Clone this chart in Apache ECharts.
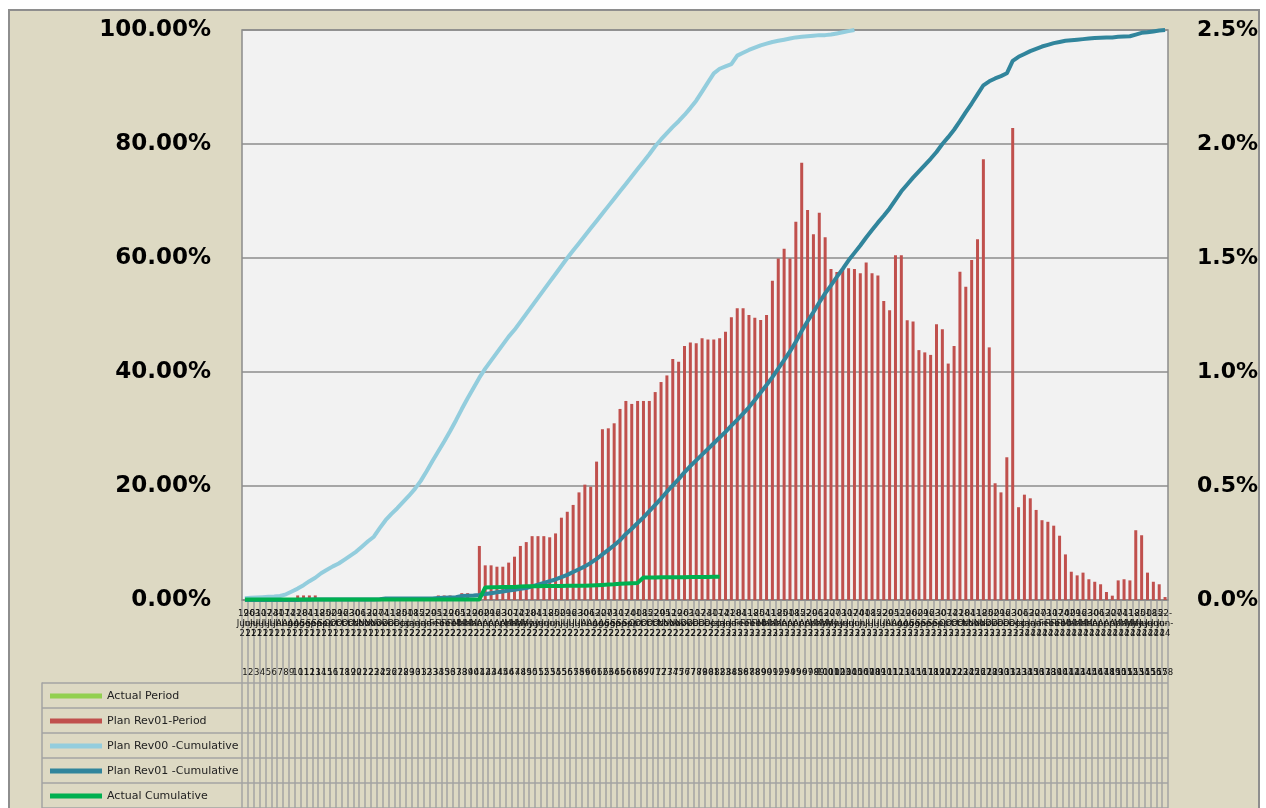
<!DOCTYPE html>
<html><head><meta charset="utf-8">
<script src="https://cdn.jsdelivr.net/npm/echarts@6/dist/echarts.min.js"></script>
<style>
html,body{margin:0;padding:0;background:#fff;width:1266px;height:808px;overflow:hidden}
#frame{position:absolute;left:8px;top:9px;width:1248px;height:820px;background:#ddd9c3;border:2px solid #8e8e8e}
#chart{position:absolute;left:0;top:0;width:1266px;height:808px}
</style></head><body><div id="frame"></div><div id="chart"></div>
<script>
// ---- categories: weekly dates starting 19-Jun-21, 158 weeks ----
const monthNames = ['Jan','Feb','Mar','Apr','May','Jun','Jul','Aug','Sep','Oct','Nov','Dec'];
const weekCount = 158;
const categories = [];
for (let k = 0; k < weekCount; k++) {
  const d = new Date(Date.UTC(2021, 5, 19 + 7 * k));
  const dd = String(d.getUTCDate()).padStart(2, '0');
  categories.push(dd + '-' + monthNames[d.getUTCMonth()] + '-' + String(d.getUTCFullYear()).slice(2));
}
const weekNumbers = categories.map((_, k) => String(k + 1));

const seriesNames = ['Actual Period', 'Plan Rev01-Period', 'Plan Rev00 -Cumulative', 'Plan Rev01 -Cumulative', 'Actual Cumulative'];

const leftTicks = { min: 0, max: 100, interval: 20 };
const rightTicks = { min: 0, max: 2.5, interval: 0.5 };

const nulls = n => Array(n).fill(null);

// Actual Period (%, left axis) - only one visible bar
const actualPeriod = nulls(68).concat([0.5]).concat(nulls(89));

// Plan Rev01-Period (%, right axis)
const planRev01Period = [
  0,0,0,0,0,0,0,0,0,
  0.02,0.02,0.02,0.02,
  0,0,0,0,0,0,0,0,0,0,0,0,0,0,0,0,0,0,0,0,
  0.02,0.02,0.02,
  0,
  0.03,0.03,
  0,
  0.237,0.152,0.152,0.146,0.146,0.164,0.19,0.237,0.254,0.28,
  0.28,0.28,0.275,0.292,0.361,0.387,0.417,0.472,0.506,0.497,
  0.607,0.749,0.753,0.775,0.838,0.873,0.86,0.873,0.873,0.873,
  0.912,0.956,0.985,1.057,1.045,1.114,1.129,1.126,1.148,1.143,
  1.143,1.148,1.177,1.24,1.28,1.28,1.25,1.238,1.228,1.25,
  1.40,1.498,1.541,1.498,1.659,1.918,1.711,1.604,1.699,1.591,
  1.452,1.439,1.452,1.455,1.452,1.433,1.48,1.433,1.423,1.311,
  1.271,1.512,1.512,1.227,1.221,1.096,1.086,1.075,1.209,1.187,
  1.037,1.114,1.44,1.374,1.491,1.582,1.933,1.108,0.512,0.472,
  0.626,2.07,0.407,0.462,0.446,0.395,0.35,0.343,0.326,0.282,
  0.2,0.124,0.108,0.12,0.091,0.08,0.069,0.035,0.019,0.086,
  0.091,0.086,0.306,0.284,0.12,0.08,0.069,0.013
];

// Plan Rev00 -Cumulative (%, left axis)
const planRev00Cum = [
  0.3,0.4,0.45,0.5,0.55,0.6,0.7,1.0,1.5,2.0,
  2.6,3.3,3.9,4.7,5.3,5.9,6.4,7.1,7.8,8.5,
  9.4,10.3,11.1,12.6,14.0,15.1,16.1,17.2,18.3,19.5,
  20.9,22.6,24.4,26.1,27.8,29.6,31.5,33.5,35.4,37.2,
  39.0,40.6,42.0,43.4,44.8,46.2,47.4,48.8,50.2,51.6,
  53.0,54.4,55.8,57.2,58.6,60.0,61.3,62.6,63.9,65.2,
  66.5,67.8,69.1,70.4,71.7,73.0,74.3,75.6,76.9,78.2,
  79.6,80.8,81.9,83.0,84.0,85.1,86.3,87.6,89.2,90.8,
  92.4,93.2,93.6,94.0,95.5,96.0,96.5,96.9,97.3,97.6,
  97.9,98.1,98.3,98.5,98.7,98.8,98.9,99.0,99.1,99.1,
  99.2,99.4,99.6,99.8,100.0
].concat(nulls(53));

// Plan Rev01 -Cumulative (%, left axis)
const planRev01Cum = [
  0,0,0,0,0,0,0,0,0,0.02,
  0.04,0.06,0.08,0.1,0.1,0.1,0.1,0.1,0.1,0.1,
  0.1,0.1,0.1,0.15,0.25,0.25,0.25,0.25,0.25,0.25,
  0.25,0.25,0.25,0.35,0.4,0.45,0.5,0.7,0.75,0.8,
  0.9,1.05,1.2,1.35,1.5,1.65,1.8,1.95,2.1,2.4,
  2.7,3.0,3.3,3.6,4.0,4.4,4.9,5.4,5.9,6.5,
  7.2,8.0,8.8,9.6,10.5,11.6,12.5,13.5,14.5,15.6,
  16.7,17.8,19.0,20.1,21.2,22.4,23.5,24.5,25.5,26.5,
  27.5,28.5,29.5,30.6,31.6,32.7,33.8,35.1,36.4,37.7,
  39.1,40.6,42.1,43.6,45.3,47.2,48.9,50.5,52.2,53.8,
  55.2,56.7,58.1,59.6,60.9,62.2,63.6,64.9,66.2,67.4,
  68.7,70.2,71.7,72.9,74.1,75.2,76.3,77.4,78.6,80.0,
  81.2,82.5,84.0,85.6,87.1,88.7,90.3,91.0,91.5,91.9,
  92.4,94.6,95.3,95.8,96.3,96.7,97.1,97.4,97.7,97.9,
  98.1,98.2,98.3,98.4,98.5,98.6,98.65,98.7,98.7,98.8,
  98.85,98.9,99.2,99.5,99.6,99.75,99.9,100
];

// Actual Cumulative (%, left axis)
const actualCum = [
  0.1,0.1,0.1,0.1,0.1,0.1,0.1,0.1,0.1,0.1,
  0.1,0.1,0.1,0.1,0.1,0.1,0.1,0.1,0.1,0.1,
  0.1,0.1,0.1,0.1,0.1,0.1,0.1,0.1,0.1,0.1,
  0.1,0.1,0.1,0.1,0.1,0.1,0.1,0.1,0.1,0.1,
  0.1,
  2.2,2.25,2.25,2.3,2.3,2.3,2.35,2.4,2.4,
  2.4,2.45,2.45,2.45,2.45,2.5,2.5,2.5,2.5,2.55,
  2.6,2.65,2.7,2.75,2.85,2.9,2.95,3.0,3.95,3.95,
  3.95,4.0,4.0,4.0,4.0,4.0,4.05,4.05,4.05,4.05,4.1,4.1
].concat(nulls(76));

const colors = {
  actualPeriod: '#92d050',
  planRev01Period: '#c0504d',
  planRev00Cum: '#93cddd',
  planRev01Cum: '#31859c',
  actualCum: '#00b050'
};

const chart = echarts.init(document.getElementById('chart'), null, { renderer: 'canvas' });
const gridLine = '#8c8c8c';
const tableLine = '#a3a3a3';
const axisFont = 'DejaVu Sans';

const option = {
  backgroundColor: 'transparent',
  animation: false,
  textStyle: { fontFamily: axisFont },
  legend: {
    orient: 'vertical', left: 50, top: 689, padding: 0,
    itemGap: 11, itemWidth: 52, itemHeight: 5, icon: 'rect',
    selectedMode: false,
    textStyle: { fontSize: 11, lineHeight: 14, color: '#222', fontFamily: axisFont },
    data: seriesNames
  },
  grid: [
    { left: 242, right: 98, top: 30, height: 570, show: true, backgroundColor: '#f2f2f2', borderColor: gridLine, borderWidth: 1.5 },
    { left: 242, right: 98, top: 600, height: 208 },
    { left: 42, right: 98, top: 683, height: 125 }
  ],
  xAxis: [
    {
      gridIndex: 0, type: 'category', data: categories,
      axisLine: { lineStyle: { color: gridLine, width: 1.5 } },
      axisTick: { show: false },
      axisLabel: {
        interval: 0, fontSize: 8.5, lineHeight: 10, color: '#111', margin: 9,
        formatter: v => { const p = v.split('-'); return p[0] + '-\n' + p[1] + '-\n' + p[2]; }
      }
    },
    {
      gridIndex: 0, type: 'category', data: weekNumbers, position: 'bottom', offset: 62,
      axisLine: { show: false }, axisTick: { show: false },
      axisLabel: { interval: 0, fontSize: 8.5, color: '#111', margin: 6 }
    },
    {
      gridIndex: 1, type: 'category', data: categories, boundaryGap: true,
      axisLine: { show: false }, axisTick: { show: false }, axisLabel: { show: false },
      splitLine: { show: true, interval: 0, lineStyle: { color: tableLine, width: 1.5 } }
    },
    { gridIndex: 2, type: 'value', min: 0, max: 1, show: false }
  ],
  yAxis: [
    {
      gridIndex: 0, type: 'value', position: 'left', ...leftTicks,
      axisLine: { show: false }, axisTick: { show: false },
      axisLabel: { formatter: v => v.toFixed(2) + '%', fontSize: 23, fontWeight: 'bold', color: '#000', margin: 31, fontFamily: axisFont },
      splitLine: { show: true, lineStyle: { color: gridLine, width: 1.5 } }
    },
    {
      gridIndex: 0, type: 'value', position: 'right', ...rightTicks,
      axisLine: { show: false }, axisTick: { show: false },
      axisLabel: { formatter: v => v.toFixed(1) + '%', fontSize: 22, fontWeight: 'bold', color: '#000', margin: 29, fontFamily: axisFont },
      splitLine: { show: false }
    },
    { gridIndex: 1, type: 'value', min: 0, max: 1, show: false },
    {
      gridIndex: 2, type: 'value', min: 0, max: 5, interval: 1, inverse: true,
      axisLabel: { show: false }, axisTick: { show: false },
      axisLine: { show: true, lineStyle: { color: tableLine, width: 1.5 } },
      splitLine: { show: true, lineStyle: { color: tableLine, width: 1.5 } }
    }
  ],
  series: [
    {
      name: seriesNames[0], type: 'bar', xAxisIndex: 0, yAxisIndex: 0, data: actualPeriod,
      barWidth: 3, barGap: '-100%', itemStyle: { color: colors.actualPeriod }
    },
    {
      name: seriesNames[1], type: 'bar', xAxisIndex: 0, yAxisIndex: 1, data: planRev01Period,
      barWidth: 3, barGap: '-100%', itemStyle: { color: colors.planRev01Period }
    },
    {
      name: seriesNames[2], type: 'line', xAxisIndex: 0, yAxisIndex: 0, data: planRev00Cum,
      symbol: 'none', connectNulls: false,
      itemStyle: { color: colors.planRev00Cum }, lineStyle: { color: colors.planRev00Cum, width: 4 }
    },
    {
      name: seriesNames[3], type: 'line', xAxisIndex: 0, yAxisIndex: 0, data: planRev01Cum,
      symbol: 'none',
      itemStyle: { color: colors.planRev01Cum }, lineStyle: { color: colors.planRev01Cum, width: 4 }
    },
    {
      name: seriesNames[4], type: 'line', xAxisIndex: 0, yAxisIndex: 0, data: actualCum,
      symbol: 'none', connectNulls: false,
      itemStyle: { color: colors.actualCum }, lineStyle: { color: colors.actualCum, width: 4 }
    }
  ]
};
chart.setOption(option);
</script></body></html>
